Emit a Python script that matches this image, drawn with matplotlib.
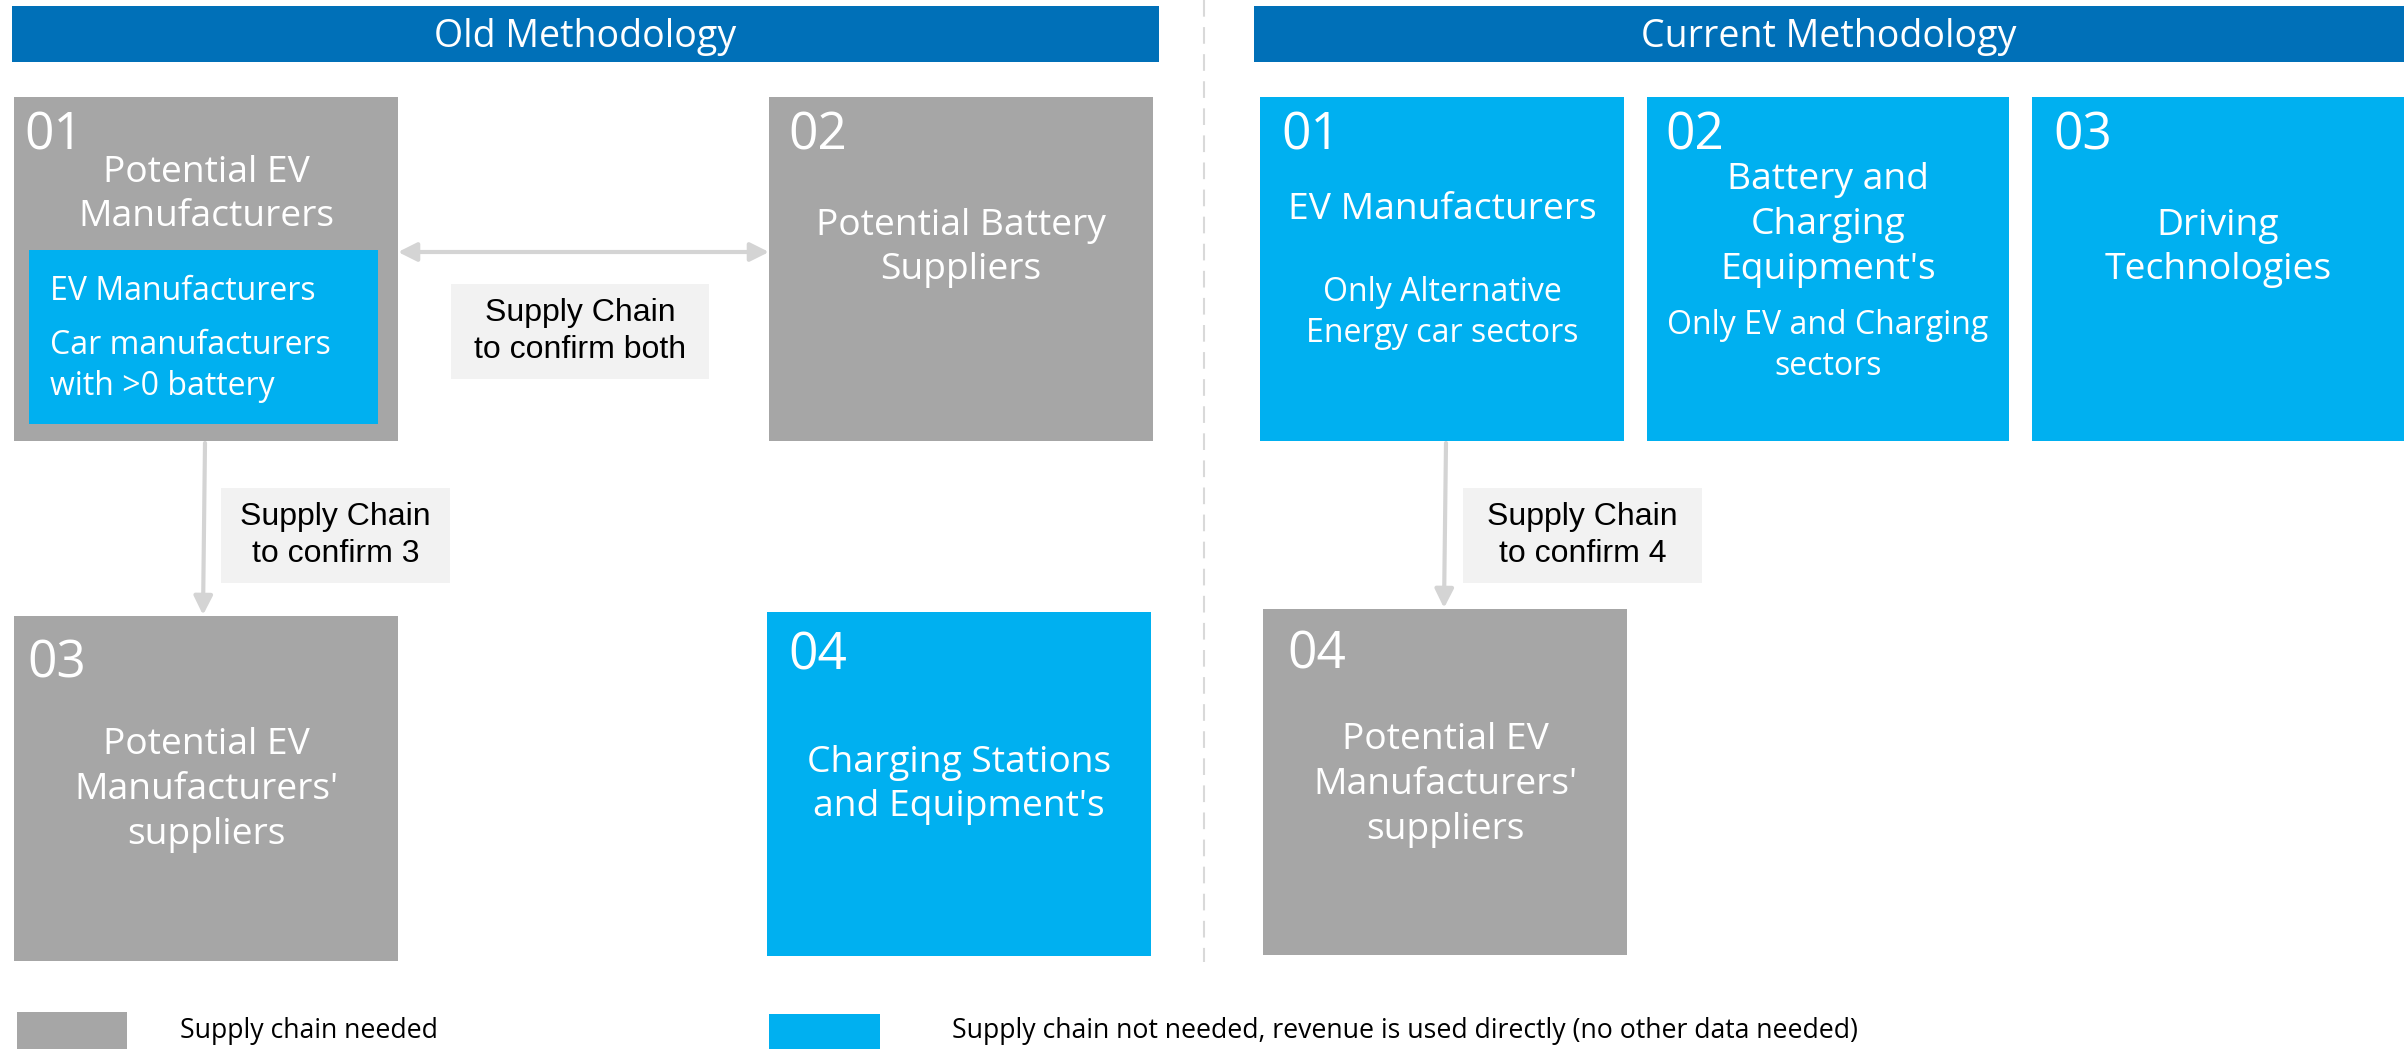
import matplotlib.pyplot as plt
from matplotlib.patches import Rectangle

# colours
HEAD_BLUE = '#0070B8'
GREY = '#A6A6A6'
CYAN = '#00B0F0'
LABEL_BG = '#F2F2F2'
ARROW = '#D4D4D4'

# texts
headers = ['Old Methodology', 'Current Methodology']
old_numbers = ['01', '02', '03', '04']
old_titles = ['Potential EV\nManufacturers', 'Potential Battery\nSuppliers',
              "Potential EV\nManufacturers'\nsuppliers", "Charging Stations\nand Equipment's"]
old_kinds = ['grey', 'grey', 'grey', 'cyan']
inner_lines = ['EV Manufacturers', 'Car manufacturers\nwith >0 battery']
cur_numbers = ['01', '02', '03', '04']
cur_titles = ['EV Manufacturers', "Battery and\nCharging\nEquipment's", 'Driving\nTechnologies',
              "Potential EV\nManufacturers'\nsuppliers"]
cur_subtitles = ['Only Alternative\nEnergy car sectors', 'Only EV and Charging\nsectors', '', '']
cur_kinds = ['cyan', 'cyan', 'cyan', 'grey']
link_labels = ['Supply Chain\nto confirm both', 'Supply Chain\nto confirm 3', 'Supply Chain\nto confirm 4']
legend_labels = ['Supply chain needed',
                 'Supply chain not needed, revenue is used directly (no other data needed)']

# layout in pixel coordinates (x0, y0, x1, y1), y grows downwards
header_boxes = [(12, 6, 1159, 62), (1254, 6, 2404, 62)]
old_boxes = [(14, 97, 398, 441), (769, 97, 1153, 441), (14, 616, 398, 961), (767, 612, 1151, 956)]
old_title_y = [195, 248, 790, 785]
old_num_x = [10, 19, 13, 21]
old_num_y = [136, 136, 664, 656]
cur_boxes = [(1260, 97, 1624, 441), (1647, 97, 2009, 441), (2032, 97, 2404, 441), (1263, 609, 1627, 955)]
cur_title_y = [210, 225, 248, 785]
cur_sub_y = [313, 346, 0, 0]
cur_num_x = [21, 18, 21, 24]
cur_num_y = [136, 136, 136, 655]
label_boxes = [(451, 284, 709, 379), (221, 488, 450, 583), (1463, 488, 1702, 583)]

colour_of = {'grey': GREY, 'cyan': CYAN}
FONT = 'Open Sans'

fig = plt.figure(figsize=(24.07, 10.49), dpi=100)
ax = fig.add_axes([0, 0, 1, 1])
ax.set_xlim(0, 2407)
ax.set_ylim(1049, 0)
ax.axis('off')


def rect(box, colour, z=1):
    x0, y0, x1, y1 = box
    ax.add_patch(Rectangle((x0, y0), x1 - x0, y1 - y0, facecolor=colour, edgecolor='none', zorder=z))


def draw_box(box, kind, number, num_dx, num_y, title, title_y):
    rect(box, colour_of[kind])
    x0, _, x1, _ = box
    ax.text(x0 + num_dx, num_y, number, family=FONT, fontsize=37, color='white', ha='left', va='center', zorder=5)
    ax.text((x0 + x1) / 2, title_y, title, family=FONT, fontsize=26.8, color='white', ha='center',
            va='center', linespacing=1.33, zorder=5)


# headers
for box, text in zip(header_boxes, headers):
    rect(box, HEAD_BLUE)
    ax.text((box[0] + box[2]) / 2, (box[1] + box[3]) / 2 + 3, text, family=FONT, fontsize=27,
            color='white', ha='center', va='center', zorder=5)

# divider
ax.plot([1204, 1204], [0, 962], color='#D9D9D9', lw=1.5, ls=(0, (8, 5)), zorder=0)

# old methodology boxes
for box, kind, num, nx, ny, title, ty in zip(old_boxes, old_kinds, old_numbers, old_num_x, old_num_y,
                                              old_titles, old_title_y):
    draw_box(box, kind, num, nx, ny, title, ty)

# inner box in old 01
rect((29, 250, 378, 424), CYAN, z=2)
ax.text(50, 291, inner_lines[0], family=FONT, fontsize=23, color='white', ha='left', va='center', zorder=5)
ax.text(50, 366, inner_lines[1], family=FONT, fontsize=23, color='white', ha='left', va='center',
        linespacing=1.3, zorder=5)

# current methodology boxes
for i, (box, kind, num, nx, ny, title, ty) in enumerate(zip(cur_boxes, cur_kinds, cur_numbers, cur_num_x,
                                                             cur_num_y, cur_titles, cur_title_y)):
    draw_box(box, kind, num, nx, ny, title, ty)
    if cur_subtitles[i]:
        ax.text((box[0] + box[2]) / 2, cur_sub_y[i], cur_subtitles[i], family=FONT, fontsize=23,
                color='white', ha='center', va='center', linespacing=1.3, zorder=5)

# arrows
arrow_kw = dict(color=ARROW, lw=3, mutation_scale=28, shrinkA=0, shrinkB=0)
ax.annotate('', xy=(769, 252), xytext=(398, 252), arrowprops=dict(arrowstyle='<|-|>', **arrow_kw))
ax.annotate('', xy=(203, 615), xytext=(205, 443), arrowprops=dict(arrowstyle='-|>', **arrow_kw))
ax.annotate('', xy=(1444, 608), xytext=(1446, 443), arrowprops=dict(arrowstyle='-|>', **arrow_kw))

# link labels
for box, text in zip(label_boxes, link_labels):
    rect(box, LABEL_BG)
    ax.text((box[0] + box[2]) / 2, (box[1] + box[3]) / 2, text, family='Liberation Sans', fontsize=23,
            color='black', ha='center', va='center', linespacing=1.3, zorder=5)

# legend
rect((17, 1012, 127, 1060), GREY)
rect((769, 1014, 880, 1060), CYAN)
ax.text(180, 1031, legend_labels[0], family=FONT, fontsize=19.2, color='black', ha='left', va='center')
ax.text(952, 1031, legend_labels[1], family=FONT, fontsize=19.2, color='black', ha='left', va='center')

fig.savefig('out.png', dpi=100)
